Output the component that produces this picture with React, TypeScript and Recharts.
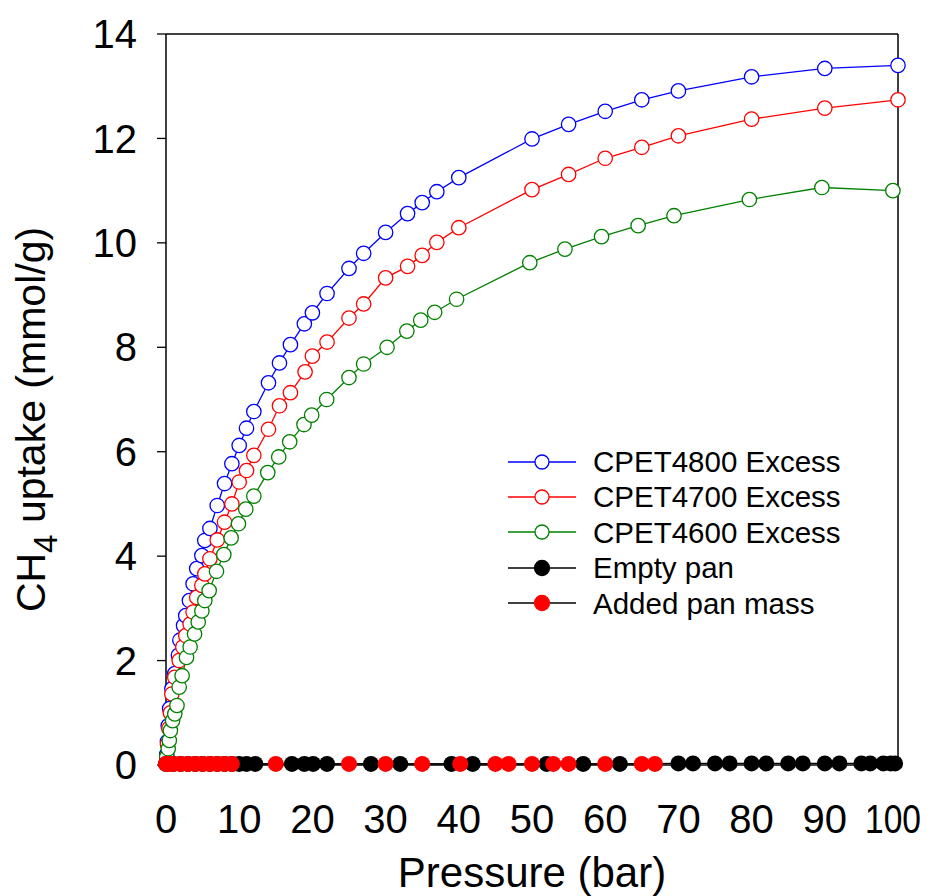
import React from "react";
import {
  LineChart,
  Line,
  XAxis,
  YAxis,
  ReferenceLine,
  Legend,
} from "recharts";

const FONT = "'Liberation Sans', Arial, sans-serif";

// CPET4800 excess
const p4800 = [0.1, 0.2, 0.3, 0.5, 0.8, 1.2, 1.7, 1.9, 2.4, 2.7, 3.2, 3.7, 4.2, 4.9, 5.3, 6, 7, 8, 9, 10, 11, 12, 14, 15.5, 17, 18.9, 20, 22, 25, 27, 30, 33, 35, 37, 40, 50, 55, 60, 65, 70, 80, 90, 100];
const u4800 = [0.2, 0.45, 0.75, 1.08, 1.46, 1.75, 2.1, 2.39, 2.67, 2.86, 3.15, 3.47, 3.76, 4.01, 4.3, 4.53, 4.97, 5.39, 5.77, 6.12, 6.45, 6.77, 7.32, 7.7, 8.05, 8.45, 8.66, 9.03, 9.51, 9.8, 10.2, 10.56, 10.77, 10.98, 11.25, 11.99, 12.27, 12.52, 12.74, 12.91, 13.18, 13.34, 13.4];

// CPET4700 excess
const p4700 = [0.1, 0.2, 0.4, 0.6, 0.8, 1.2, 1.8, 2.3, 2.7, 3.3, 3.7, 4.2, 4.9, 5.3, 6, 7, 8, 9, 10, 11, 12, 14, 15.5, 17, 19, 20, 22, 25, 27, 30, 33, 35, 37, 40, 50, 55, 60, 65, 70, 80, 90, 100];
const u4700 = [0.15, 0.4, 0.7, 1.0, 1.36, 1.68, 2.0, 2.26, 2.48, 2.7, 2.93, 3.21, 3.44, 3.66, 3.95, 4.31, 4.65, 5.0, 5.42, 5.64, 5.93, 6.43, 6.88, 7.13, 7.53, 7.83, 8.1, 8.56, 8.83, 9.33, 9.55, 9.76, 10.01, 10.29, 11.02, 11.31, 11.62, 11.83, 12.05, 12.37, 12.58, 12.74];

// CPET4600 excess
const p4600 = [0.1, 0.3, 0.45, 0.6, 0.9, 1.2, 1.5, 1.8, 2.2, 2.8, 3.3, 3.9, 4.4, 4.9, 5.3, 5.9, 6.9, 7.9, 8.9, 9.9, 10.9, 12, 13.9, 15.4, 16.9, 18.85, 19.9, 21.95, 25, 27, 30.2, 32.9, 34.8, 36.7, 39.7, 49.7, 54.5, 59.5, 64.5, 69.4, 79.7, 89.6, 99.3];
const u4600 = [0.15, 0.31, 0.47, 0.66, 0.85, 0.98, 1.14, 1.49, 1.71, 2.06, 2.26, 2.51, 2.74, 2.95, 3.15, 3.34, 3.71, 4.03, 4.35, 4.62, 4.9, 5.15, 5.6, 5.9, 6.19, 6.52, 6.7, 7.0, 7.42, 7.68, 8.0, 8.31, 8.52, 8.67, 8.92, 9.62, 9.88, 10.12, 10.33, 10.52, 10.83, 11.06, 11.0];

// empty pan
const pEmpty = [0, 1, 2, 3, 4, 5, 6, 7, 8, 9, 10, 11, 12.2, 17.2, 18.9, 20.1, 22, 28, 32, 39, 41.9, 52, 57, 62, 70, 72, 75, 77, 80, 82, 85, 87, 90, 92, 95, 96.2, 98, 99, 99.6];
const uEmpty = [0.02, 0.02, 0.02, 0.02, 0.02, 0.02, 0.02, 0.02, 0.02, 0.02, 0.02, 0.02, 0.02, 0.02, 0.02, 0.02, 0.02, 0.02, 0.02, 0.02, 0.02, 0.02, 0.02, 0.02, 0.03, 0.03, 0.03, 0.03, 0.03, 0.03, 0.03, 0.03, 0.03, 0.03, 0.03, 0.03, 0.03, 0.03, 0.03];

// added pan mass
const pAdded = [0, 0.5, 1, 2, 3, 4, 5, 6, 7, 8, 9, 15, 25, 30, 35, 40.2, 45, 46.8, 50, 52.9, 55, 60, 65, 66.8];
const uAdded = [0.02, 0.02, 0.02, 0.02, 0.02, 0.02, 0.02, 0.02, 0.02, 0.02, 0.02, 0.02, 0.02, 0.02, 0.02, 0.02, 0.02, 0.02, 0.02, 0.02, 0.02, 0.02, 0.02, 0.02];

const xTicks = [0, 10, 20, 30, 40, 50, 60, 70, 80, 90, 100];
const yTicks = [0, 2, 4, 6, 8, 10, 12, 14];

const zip = (p: number[], u: number[]) => p.map((x, i) => ({ p: x, u: u[i] }));

const series = [
  { name: "CPET4800 Excess", data: zip(p4800, u4800), color: "#0000ff", line: "#0000ff", open: true },
  { name: "CPET4700 Excess", data: zip(p4700, u4700), color: "#ff0000", line: "#ff0000", open: true },
  { name: "CPET4600 Excess", data: zip(p4600, u4600), color: "#008000", line: "#008000", open: true },
  { name: "Empty pan", data: zip(pEmpty, uEmpty), color: "#000000", line: "#000000", open: false },
  { name: "Added pan mass", data: zip(pAdded, uAdded), color: "#ff0000", line: "#000000", open: false },
];

function renderLegend() {
  return (
    <div style={{ fontFamily: FONT, fontSize: 29.5, color: "#000" }}>
      {series.map((s) => (
        <div key={s.name} style={{ display: "flex", alignItems: "center", height: 35.4 }}>
          <svg width={68} height={20} style={{ display: "block" }}>
            <line x1={0} y1={10} x2={68} y2={10} stroke={s.line} strokeWidth={1.3} />
            <circle
              cx={34}
              cy={10}
              r={s.open ? 7 : 7.5}
              fill={s.open ? "#fff" : s.color}
              stroke={s.color}
              strokeWidth={1.3}
            />
          </svg>
          <span style={{ marginLeft: 17, whiteSpace: "nowrap", lineHeight: 1 }}>{s.name}</span>
        </div>
      ))}
    </div>
  );
}

// the widest label is drawn a bit narrower, as in the original
function XTick(props: any) {
  const { x, y, payload } = props;
  const label = String(payload.value);
  const squeeze = label.length > 2;
  return (
    <text
      x={squeeze ? x - 5 : x}
      y={y}
      dy="0.71em"
      textAnchor="middle"
      fontFamily={FONT}
      fontSize={40}
      fill="#000"
      textLength={squeeze ? 56 : undefined}
      lengthAdjust="spacingAndGlyphs"
    >
      {label}
    </text>
  );
}

function YTitle(props: any) {
  const vb = props.viewBox || { x: 0, y: 34, width: 166, height: 731 };
  const x = vb.x + 45;
  const y = vb.y + vb.height / 2 + 20;
  return (
    <text
      x={x}
      y={y}
      transform={`rotate(-90, ${x}, ${y})`}
      textAnchor="middle"
      fontFamily={FONT}
      fontSize={41}
      fill="#000"
    >
      CH
      <tspan dy={12} fontSize={33}>4</tspan>
      <tspan dy={-12}> uptake (mmol/g)</tspan>
    </text>
  );
}

export default function App() {
  return (
    <div style={{ position: "absolute", left: 0, top: 0, background: "#fff" }}>
      <LineChart
        width={937}
        height={896}
        margin={{ top: 34, right: 39, left: 0, bottom: 0 }}
      >
        <XAxis
          type="number"
          dataKey="p"
          domain={[0, 100]}
          ticks={xTicks}
          interval={0}
          height={131}
          tickSize={5}
          tickMargin={35}
          axisLine={{ stroke: "#000", strokeWidth: 1.5 }}
          tickLine={{ stroke: "#000", strokeWidth: 1.3 }}
          tick={<XTick />}
          label={{
            value: "Pressure (bar)",
            position: "insideBottom",
            offset: 9,
            fill: "#000",
            fontSize: 42,
            fontFamily: FONT,
          }}
        />
        <YAxis
          type="number"
          dataKey="u"
          domain={[0, 14]}
          ticks={yTicks}
          interval={0}
          width={166}
          tickSize={9}
          tickMargin={20}
          axisLine={{ stroke: "#000", strokeWidth: 1.5 }}
          tickLine={{ stroke: "#000", strokeWidth: 1.3 }}
          tick={{ fill: "#000", fontSize: 40, fontFamily: FONT }}
          label={<YTitle />}
        />
        <ReferenceLine y={14} stroke="#000" strokeWidth={1.5} />
        <ReferenceLine x={100} stroke="#000" strokeWidth={1.5} />
        {series.map((s) => (
          <Line
            key={s.name}
            name={s.name}
            data={s.data}
            dataKey="u"
            type="linear"
            stroke={s.line}
            strokeWidth={1.3}
            dot={
              s.open
                ? { r: 7.2, fill: "#fff", stroke: s.color, strokeWidth: 1.3 }
                : { r: 8, fill: s.color, stroke: s.color, strokeWidth: 0 }
            }
            activeDot={false}
            isAnimationActive={false}
          />
        ))}
        <Legend
          layout="vertical"
          align="center"
          verticalAlign="middle"
          content={renderLegend}
          wrapperStyle={{ left: 508, top: 444, width: 360, height: 180 }}
        />
      </LineChart>
    </div>
  );
}
